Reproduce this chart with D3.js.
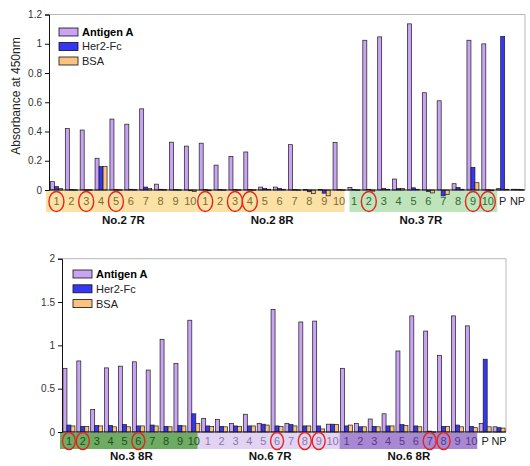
<!DOCTYPE html>
<html>
<head>
<meta charset="utf-8">
<script src="https://cdn.jsdelivr.net/npm/d3@7/dist/d3.min.js"></script>
<style>
  html, body { margin: 0; padding: 0; background: #fff; }
  svg { display: block; font-family: "Liberation Sans", Arial, sans-serif; }
</style>
</head>
<body>
<svg id="chart" width="530" height="466"></svg>
<script>
// ---- data -------------------------------------------------------------
const seriesNames = ["Antigen A", "Her2-Fc", "BSA"];
const seriesColors = ["#c9a4f3", "#3636f5", "#fcc380"];

const numLabels = ["1","2","3","4","5","6","7","8","9","10"];
const tickLabels = [...numLabels, ...numLabels, ...numLabels, "P", "NP"];

// upper plate
const topGroupNames = ["No.2 7R", "No.2 8R", "No.3 7R"];
const topAntigen = [0.057,0.42,0.41,0.217,0.485,0.45,0.555,0.04,0.327,0.30,
                    0.32,0.17,0.23,0.26,0.02,0.02,0.31,0.003,0.003,0.325,
                    0.018,1.024,1.047,0.075,1.136,0.665,0.61,0.043,1.024,0.999,
                    0.01,0.005];
const topHer2    = [0.023,0.003,0.002,0.16,0.003,0.005,0.02,0.005,0.003,-0.005,
                    0.003,0.003,0.003,0.003,0.01,0.01,0.003,-0.012,-0.022,0.003,
                    0.003,0.004,0.01,0.01,0.015,-0.01,-0.04,0.018,0.155,0.002,
                    1.05,0.005];
const topBSA     = [0.01,0.002,0.002,0.16,0.002,0.003,0.01,0.003,0.002,-0.01,
                    -0.005,0.002,0.002,0.002,0.005,0.005,0.002,-0.025,-0.04,0.002,
                    0.002,-0.008,0.005,0.01,0.005,-0.02,-0.03,0.005,0.05,-0.005,
                    0.005,0.003];
const topCircled = [0,2,4,10,12,13,21,28,29];
const topYTicks = [0,0.2,0.4,0.6,0.8,1,1.2];

// lower plate
const botGroupNames = ["No.3 8R", "No.6 7R", "No.6 8R"];
const botAntigen = [0.735,0.82,0.26,0.74,0.76,0.81,0.715,1.07,0.79,1.29,
                    0.158,0.146,0.10,0.205,0.10,1.415,0.10,1.27,1.28,0.09,
                    0.735,0.10,0.15,0.21,0.935,1.34,1.165,0.885,1.34,1.225,
                    0.10,0.06];
const botHer2    = [0.08,0.065,0.075,0.075,0.085,0.07,0.08,0.065,0.075,0.21,
                    0.07,0.065,0.07,0.07,0.09,0.07,0.085,0.07,0.07,0.09,
                    0.07,0.06,0.065,0.07,0.085,0.07,0.01,0.065,0.08,0.065,
                    0.84,0.05];
const botBSA     = [0.07,0.065,0.07,0.06,0.06,0.07,0.07,0.06,0.07,0.10,
                    0.065,0.06,0.065,0.07,0.08,0.065,0.07,0.07,0.035,0.085,
                    0.08,0.06,0.06,0.07,0.075,0.06,0.003,0.065,0.06,0.05,
                    0.06,0.045];
const botCircled = [0,1,5,15,17,18,26,27];
const botYTicks = [0,0.5,1,1.5,2];

// ---- drawing ----------------------------------------------------------
const svg = d3.select("#chart");

function drawPanel(cfg) {
  const g = svg.append("g");
  const idx = d3.range(tickLabels.length);
  const x = d3.scaleBand().domain(idx).range([cfg.left, cfg.right]).paddingInner(0).paddingOuter(0);
  const bw = x.bandwidth();
  const xs = d3.scaleBand().domain(seriesNames).range([bw / 2 - 6, bw / 2 + 6]);
  const y = d3.scaleLinear().domain([0, cfg.yMax]).range([cfg.bottom, cfg.top]);
  const y0 = y(0);

  // frame: grey top and right edges
  g.append("path")
    .attr("d", `M${cfg.left},${y(cfg.yMax)}H${cfg.right}V${y0}`)
    .attr("fill", "none").attr("stroke", "#b8b8b8").attr("stroke-width", 1);

  // coloured category strips
  cfg.strips.forEach(s => {
    g.append("rect")
      .attr("x", x(s.from) - s.padL)
      .attr("y", y0 + 1)
      .attr("width", x(s.to) + bw - x(s.from) + s.padL - s.padR)
      .attr("height", cfg.stripH)
      .attr("fill", s.color);
  });

  // bars
  const series = [cfg.antigen, cfg.her2, cfg.bsa];
  series.forEach((vals, si) => {
    g.append("g").selectAll("rect").data(vals).join("rect")
      .attr("x", (d, i) => x(i) + xs(seriesNames[si]))
      .attr("y", d => Math.min(y(d), y0))
      .attr("width", xs.bandwidth())
      .attr("height", d => Math.max(0.6, Math.abs(y(d) - y0)))
      .attr("fill", seriesColors[si])
      .attr("stroke", "#1a1a1a")
      .attr("stroke-width", 0.7);
  });

  // zero line
  g.append("line")
    .attr("x1", cfg.left).attr("x2", cfg.right)
    .attr("y1", y0).attr("y2", y0)
    .attr("stroke", "#111").attr("stroke-width", 1);

  // y axis
  const ax = g.append("g")
    .attr("transform", `translate(${cfg.left},0)`)
    .call(d3.axisLeft(y).tickValues(cfg.yTicks).tickSize(4).tickPadding(3)
      .tickFormat(d3.format("~g")));
  ax.select(".domain").attr("stroke", "#111");
  ax.selectAll(".tick line").attr("stroke", "#111");
  ax.selectAll(".tick text").attr("font-size", 10).attr("fill", "#333")
    .attr("font-family", "'Liberation Sans', Arial, sans-serif");

  // category numbers
  const labY = y0 + 1 + cfg.stripH / 2;
  g.append("g").selectAll("text").data(tickLabels).join("text")
    .attr("x", (d, i) => x(i) + bw / 2)
    .attr("y", labY)
    .attr("dy", "0.36em")
    .attr("text-anchor", "middle")
    .attr("font-size", 11)
    .attr("font-family", "'Liberation Sans Narrow', 'Arial Narrow', 'Liberation Sans', sans-serif")
    .attr("fill", (d, i) => i >= 30 ? "#222" : cfg.strips[Math.floor(i / 10)].text)
    .text(d => d);

  // red rings
  g.append("g").selectAll("ellipse").data(cfg.circled).join("ellipse")
    .attr("cx", i => x(i) + bw / 2)
    .attr("cy", labY)
    .attr("rx", cfg.ring[0]).attr("ry", cfg.ring[1])
    .attr("fill", "none").attr("stroke", "#e3241e").attr("stroke-width", 1.4);

  // group names under each strip
  cfg.groupNames.forEach((name, k) => {
    g.append("text")
      .attr("x", (x(k * 10) + x(k * 10 + 9) + bw) / 2)
      .attr("y", y0 + 1 + cfg.stripH + cfg.nameGap)
      .attr("text-anchor", "middle")
      .attr("font-size", 11.5).attr("font-weight", "bold").attr("fill", "#111")
      .text(name);
  });

  // legend
  const lg = g.append("g").attr("transform", `translate(${cfg.legend[0]},${cfg.legend[1]})`);
  seriesNames.forEach((name, si) => {
    const row = lg.append("g").attr("transform", `translate(0,${si * cfg.legendStep})`);
    row.append("rect").attr("x", 0).attr("y", -4).attr("width", 19).attr("height", 8)
      .attr("fill", seriesColors[si]).attr("stroke", "#111").attr("stroke-width", 0.8);
    row.append("text").attr("x", 23).attr("y", 0).attr("dy", "0.36em")
      .attr("font-size", 11)
      .attr("font-weight", si === 0 ? "bold" : "normal")
      .attr("fill", si === 0 ? "#000" : "#222")
      .text(name);
  });

  return { x, y };
}

// upper plate
drawPanel({
  left: 49, right: 525, top: 14.5, bottom: 190, yMax: 1.2, yTicks: topYTicks,
  antigen: topAntigen, her2: topHer2, bsa: topBSA, circled: topCircled,
  groupNames: topGroupNames, stripH: 21, nameGap: 12, ring: [7.5, 10],
  strips: [
    { from: 0, to: 9, color: "#fbe1a6", text: "#7d6a37", padL: 3, padR: 0 },
    { from: 10, to: 19, color: "#fbe1a6", text: "#7d6a37", padL: 0, padR: 2 },
    { from: 20, to: 29, color: "#bfe3bb", text: "#2f6a30", padL: -3, padR: -2 }
  ],
  legend: [59, 32], legendStep: 14.5
});

// y axis title of the upper plate
svg.append("text")
  .attr("transform", "translate(16,96) rotate(-90)")
  .attr("text-anchor", "middle").attr("dy", "0.36em")
  .attr("font-size", 12).attr("fill", "#222")
  .text("Absorbance at 450nm");

// lower plate
drawPanel({
  left: 62, right: 506, top: 258.7, bottom: 432, yMax: 2, yTicks: botYTicks,
  antigen: botAntigen, her2: botHer2, bsa: botBSA, circled: botCircled,
  groupNames: botGroupNames, stripH: 16, nameGap: 11, ring: [6.5, 8.5],
  strips: [
    { from: 0, to: 9, color: "#6eab63", text: "#234f22", padL: 2, padR: 3 },
    { from: 10, to: 19, color: "#e3d3f3", text: "#8a78ad", padL: 3, padR: 0 },
    { from: 20, to: 29, color: "#a888d2", text: "#563a84", padL: 0, padR: 1 }
  ],
  legend: [73, 274], legendStep: 14.8
});
</script>
</body>
</html>
